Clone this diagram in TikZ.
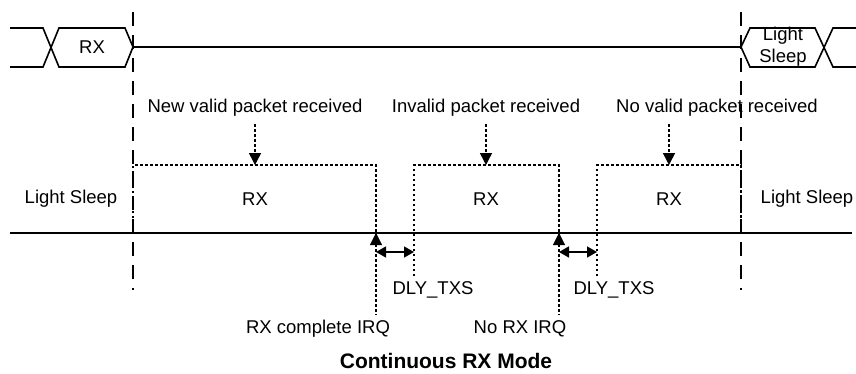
\documentclass[tikz,border=0pt]{standalone}
\usepackage{fontspec}
\setmainfont{Liberation Sans}
\usetikzlibrary{arrows.meta}

\begin{document}
\begin{tikzpicture}[x=1pt,y=-1pt,
	sig/.style={line width=1.6pt},
	marker/.style={line width=1.5pt,dash pattern=on 14pt off 9pt},
	dots/.style={line width=1.5pt,dash pattern=on 2.5pt off 2.5pt},
	lbl/.style={font=\fontsize{18.5}{22}\selectfont,inner sep=0pt,align=center},
	tip/.style={-{Triangle[length=12pt,width=12pt]}},
	both/.style={{Triangle[length=10pt,width=11pt]}-{Triangle[length=10pt,width=11pt]},line width=1.6pt}]
\useasboundingbox (0,0) rectangle (856,373);
\coordinate (ta) at (133,12);
\coordinate (tb) at (133,290);
\coordinate (tc) at (741,12);
\coordinate (td) at (741,290);
\draw[marker] (ta) -- (tb);
\draw[marker] (tc) -- (td);
\draw[sig] (10,28) -- (43,28) -- (59,67) -- (125,67) -- (133,47) -- (741,47) -- (750,28) -- (815,28) -- (833,67) -- (856,67);
\draw[sig] (10,67) -- (43,67) -- (59,28) -- (125,28) -- (133,47);
\draw[sig] (741,47) -- (750,67) -- (815,67) -- (833,28) -- (856,28);
\node[lbl] (rxa) at (92,47) {RX};
\node[lbl] (lsa) at (783,47) {Light\\Sleep};
\draw[sig] (10,233) -- (852,233);
\draw[dots] (133,233) -- (133,165) -- (376,165) -- (376,315);
\draw[dots] (414,276) -- (414,165) -- (559,165) -- (559,315);
\draw[dots] (597,276) -- (597,165) -- (741,165) -- (741,233);
\node[lbl] (pa) at (255,108) {New valid packet received};
\node[lbl] (pb) at (486,108) {Invalid packet received};
\node[lbl] (pc) at (717,108) {No valid packet received};
\draw[dots,tip] (255,124) -- (255,165);
\draw[dots,tip] (486,124) -- (486,165);
\draw[dots,tip] (669,124) -- (669,165);
\node[lbl] (ls) at (71,199) {Light Sleep};
\node[lbl] (ra) at (255,199) {RX};
\node[lbl] (rb) at (486,199) {RX};
\node[lbl] (rc) at (669,199) {RX};
\node[lbl] (le) at (807,199) {Light Sleep};
\draw[tip] (376,246) -- (376,233);
\draw[tip] (559,246) -- (559,233);
\draw[both] (376,252) -- (414,252);
\draw[both] (559,252) -- (597,252);
\node[lbl] (da) at (433,290) {DLY\_TXS};
\node[lbl] (db) at (614,290) {DLY\_TXS};
\node[lbl] (ia) at (318,329) {RX complete IRQ};
\node[lbl] (ib) at (520,329) {No RX IRQ};
\node[lbl,font=\fontsize{21}{24}\selectfont\bfseries,anchor=base] (tt) at (446,368) {Continuous RX Mode};
\end{tikzpicture}
\end{document}
